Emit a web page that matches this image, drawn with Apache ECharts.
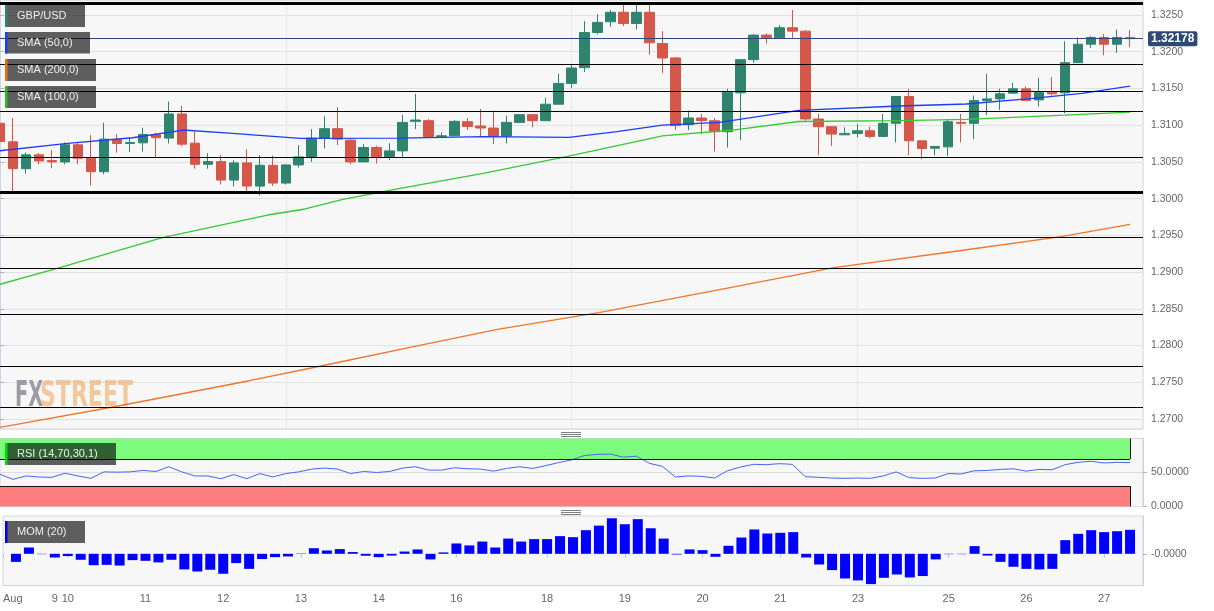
<!DOCTYPE html>
<html><head><meta charset="utf-8">
<script src="https://cdn.jsdelivr.net/npm/echarts@6/dist/echarts.min.js"></script>
<style>html,body{margin:0;padding:0;background:#fff;}#c{width:1214px;height:611px;}</style>
</head><body><div id="c"></div>
<script>
// ---- data ----
const tickIndex  = [0,4,5,11,17,23,29,35,42,48,54,60,66,73,79,85];
const tickLabels = ['Aug','9','10','11','12','13','14','16','18','19','20','21','23','25','26','27'];

const opens  = [1.31025,1.30774,1.30408,1.30596,1.30518,1.30500,1.30733,1.30550,1.30367,1.30806,
                1.30751,1.30760,1.30870,1.30824,1.31153,1.30755,1.30468,1.30504,1.30253,1.30486,
                1.30171,1.30454,1.30212,1.30459,1.30568,1.30824,1.30952,1.30796,1.30500,1.30696,
                1.30573,1.30650,1.31052,1.31061,1.30842,1.30856,1.31047,1.30988,1.30961,1.30851,
                1.31038,1.31143,1.31061,1.31285,1.31568,1.31783,1.32262,1.32408,1.32536,1.32385,
                1.32536,1.32111,1.31915,1.31007,1.31098,1.31061,1.30911,1.31440,1.31892,1.32226,
                1.32189,1.32326,1.32280,1.31084,1.30979,1.30869,1.30888,1.30924,1.30847,1.31025,
                1.31390,1.30787,1.30687,1.30705,1.31038,1.31025,1.31335,1.31358,1.31436,1.31495,
                1.31344,1.31449,1.31440,1.31851,1.32102,1.32194,1.32102,1.32194];
const closes = [1.30778,1.30408,1.30596,1.30513,1.30500,1.30733,1.30550,1.30367,1.30810,1.30751,
                1.30765,1.30874,1.30828,1.31153,1.30742,1.30468,1.30504,1.30253,1.30486,1.30171,
                1.30454,1.30212,1.30459,1.30568,1.30824,1.30952,1.30810,1.30500,1.30696,1.30573,
                1.30650,1.31038,1.31070,1.30847,1.30856,1.31052,1.30983,1.30961,1.30847,1.31038,
                1.31143,1.31061,1.31285,1.31568,1.31778,1.32262,1.32399,1.32536,1.32385,1.32536,
                1.32121,1.31915,1.30993,1.31098,1.31061,1.30911,1.31449,1.31892,1.32226,1.32194,
                1.32326,1.32280,1.31084,1.30979,1.30879,1.30888,1.30924,1.30847,1.31025,1.31390,
                1.30787,1.30682,1.30710,1.31047,1.31025,1.31335,1.31358,1.31427,1.31495,1.31335,
                1.31449,1.31427,1.31851,1.32102,1.32194,1.32102,1.32194,1.32178];
const lows   = [1.30740,1.30080,1.30340,1.30468,1.30413,1.30468,1.30468,1.30180,1.30331,1.30627,
                1.30637,1.30641,1.30559,1.30751,1.30714,1.30408,1.30408,1.30194,1.30166,1.30080,
                1.30043,1.30171,1.30194,1.30422,1.30500,1.30682,1.30728,1.30468,1.30500,1.30477,
                1.30527,1.30568,1.30947,1.30833,1.30824,1.30850,1.30933,1.30833,1.30742,1.30751,
                1.31030,1.30970,1.31061,1.31285,1.31504,1.31723,1.32235,1.32340,1.32349,1.32303,
                1.31961,1.31710,1.30938,1.30933,1.30879,1.30641,1.30696,1.30796,1.31851,1.32111,
                1.32189,1.32189,1.31061,1.30591,1.30719,1.30865,1.30833,1.30824,1.30847,1.30765,
                1.30591,1.30536,1.30591,1.30582,1.30765,1.30810,1.31139,1.31207,1.31436,1.31335,
                1.31253,1.31404,1.31162,1.31851,1.32052,1.31952,1.31984,1.32066];
const highs  = [1.31107,1.31098,1.30627,1.30618,1.30659,1.30765,1.30755,1.30865,1.31034,1.30879,
                1.30833,1.30965,1.30897,1.31322,1.31262,1.30915,1.30618,1.30596,1.30523,1.30673,
                1.30591,1.30586,1.30468,1.30728,1.30947,1.31121,1.31244,1.30810,1.30742,1.30719,
                1.30755,1.31143,1.31427,1.31084,1.30901,1.31070,1.31098,1.31221,1.31198,1.31130,
                1.31150,1.31150,1.31372,1.31701,1.31828,1.32417,1.32509,1.32568,1.32659,1.32659,
                1.32659,1.32280,1.31929,1.31198,1.31153,1.31098,1.31495,1.31892,1.32239,1.32248,
                1.32363,1.32568,1.32294,1.31153,1.30979,1.30970,1.31016,1.30979,1.31153,1.31390,
                1.31495,1.30787,1.30719,1.31084,1.31153,1.31404,1.31700,1.31495,1.31577,1.31527,
                1.31646,1.31655,1.32143,1.32194,1.32212,1.32239,1.32303,1.32294];

// moving averages: [candle position, value]
const sma50  = [[0,1.30652],[5.2,1.30753],[10.2,1.30829],[14.1,1.30934],[17.9,1.30889],[23.1,1.30821],
                [30.8,1.30825],[37.2,1.30843],[43.8,1.30835],[47.5,1.30911],[51,1.31002],[55.4,1.31039],
                [61.5,1.31201],[69.2,1.31261],[74.4,1.31288],[79.5,1.31366],[83.3,1.31434],[87,1.31533]];
const sma100 = [[0,1.28834],[4.4,1.29051],[12.5,1.29468],[20.6,1.29777],[23.5,1.29859],[26.4,1.29991],
                [30.8,1.30141],[37.2,1.30345],[43.6,1.30571],[51,1.30853],[56.4,1.30934],[61.5,1.31050],
                [69.2,1.31061],[74.4,1.31080],[82,1.31138],[87,1.31179]];
const sma200 = [[0,1.26887],[8.8,1.27167],[19.2,1.27521],[24.8,1.27725],[32.4,1.28006],[38.3,1.28220],
                [46.2,1.28452],[55.2,1.28756],[64.2,1.29060],[73.3,1.29277],[81.7,1.29482],[87,1.29651]];

const rsi = [47.4,39.9,44.9,43.4,42.9,48.9,44.9,41.4,50.9,50.5,
             50.9,53.0,51.5,58.5,50.9,44.9,44.9,40.9,46.9,40.9,
             48.4,43.4,48.4,50.9,55.0,56.5,55.0,48.4,51.5,50.0,
             51.5,56.5,58.5,53.5,53.5,57.0,55.5,55.0,52.0,56.0,
             58.5,56.0,60.0,64.5,68.5,75.0,76.6,77.1,72.5,74.0,
             63.5,59.0,43.4,44.9,44.4,41.9,52.5,58.0,62.0,61.5,
             63.0,62.0,43.9,42.9,41.9,41.4,41.9,41.4,44.9,50.9,
             42.4,41.4,41.9,48.4,47.9,52.5,53.0,54.5,55.5,52.0,
             54.5,54.0,61.5,65.0,66.5,64.0,65.0,64.5];
const mom = [0.0000,-0.0046,0.0036,-0.0002,-0.0021,-0.0013,-0.0034,-0.0065,-0.0063,-0.0067,
             -0.0036,-0.0040,-0.0049,-0.0034,-0.0089,-0.0101,-0.0091,-0.0114,-0.0053,-0.0086,
             -0.0030,-0.0019,-0.0015,0.0002,0.0032,0.0019,0.0027,0.0010,-0.0011,-0.0019,
             -0.0010,0.0013,0.0025,-0.0032,0.0008,0.0059,0.0048,0.0070,0.0036,0.0087,
             0.0070,0.0084,0.0084,0.0101,0.0095,0.0135,0.0161,0.0203,0.0169,0.0198,
             0.0146,0.0087,-0.0004,0.0025,0.0021,-0.0017,0.0046,0.0093,0.0139,0.0116,
             0.0120,0.0124,-0.0021,-0.0061,-0.0093,-0.0141,-0.0152,-0.0173,-0.0137,-0.0118,
             -0.0135,-0.0127,-0.0032,-0.0002,-0.0002,0.0044,-0.0010,-0.0046,-0.0074,-0.0086,
             -0.0089,-0.0086,0.0078,0.0114,0.0135,0.0124,0.0129,0.0137];

const lastPrice   = 1.32178;
const heavyLevels = [1.32659, 1.30086];
const lightLevels = [1.31833, 1.31465, 1.31193, 1.30567, 1.29473, 1.29051, 1.28425, 1.27717, 1.27159];
const rsiUpper = [70, 100];
const rsiLower = [0, 30];

// ---- build chart ----
const n = opens.length;
const categories = Array.from({length: n + 1}, (_, i) => 'c' + i);
const labelAt = {};
tickIndex.forEach((t, k) => { labelAt[t] = tickLabels[k]; });
const isTick = (idx) => labelAt[idx] !== undefined;

const FONT = '"Liberation Sans", Arial, sans-serif';
const G = {left: 0, right: 71, show: true, backgroundColor: '#f7f7f7', borderColor: '#cfd5e2', borderWidth: 1};
const AXC = '#666';

function catAxis(gi, showLabels) {
  return {
    type: 'category', gridIndex: gi, data: categories, boundaryGap: false,
    axisLine: {show: false},
    axisTick: {show: showLabels, interval: (i) => isTick(i), length: 4, lineStyle: {color: '#c3cad8'}},
    axisLabel: {show: showLabels, interval: (i) => isTick(i), formatter: (v, i) => labelAt[i] || '',
                color: AXC, fontSize: 11, margin: 8, alignMinLabel: 'left', fontFamily: FONT},
    splitLine: {show: false}
  };
}

const levelLines = [];
heavyLevels.forEach(v => levelLines.push({yAxis: v, lineStyle: {color: '#000', width: 3, type: 'solid'}}));
lightLevels.forEach(v => levelLines.push({yAxis: v, lineStyle: {color: '#000', width: 1.2, type: 'solid'}}));
levelLines.push({yAxis: lastPrice, lineStyle: {color: '#2c4a74', width: 1.2, type: 'solid'},
  label: {show: true, position: 'end', distance: 5, formatter: lastPrice.toFixed(5), color: '#fff',
          fontWeight: 'bold', fontSize: 12, fontFamily: FONT, backgroundColor: '#2c4a74',
          padding: [2, 3, 1, 3], borderRadius: 2}});

function legendBox(x, y, w, h, strip, text) {
  return {type: 'group', z: 50, children: [
    {type: 'rect', z: 50, shape: {x: x, y: y, width: w, height: h}, style: {fill: 'rgba(0,0,0,0.62)'}},
    {type: 'rect', z: 51, shape: {x: x, y: y, width: 2.5, height: h}, style: {fill: strip}},
    {type: 'text', z: 52, x: 17, y: y + h / 2, style: {text: text, fill: '#eeeeee', font: '11px ' + FONT, verticalAlign: 'middle'}}
  ]};
}
function grip(y) {
  return {type: 'group', z: 50, children: [0, 2, 4].map(d => ({type: 'line', z: 50,
    shape: {x1: 561, y1: y + d + 0.5, x2: 581, y2: y + d + 0.5}, style: {stroke: '#808080', lineWidth: 1}}))};
}

const chart = echarts.init(document.getElementById('c'), null, {renderer: 'canvas'});
chart.setOption({
  animation: false,
  textStyle: {fontFamily: FONT},
  grid: [
    Object.assign({top: 0, height: 429}, G),
    Object.assign({top: 438.5, height: 68}, G),
    Object.assign({top: 516, height: 69.5}, G)
  ],
  xAxis: [
    catAxis(0, false), catAxis(1, false), catAxis(2, true),
    {type: 'value', gridIndex: 0, position: 'top', min: 0, max: n, interval: 22,
     axisLine: {show: false}, axisTick: {show: false}, axisLabel: {show: false},
     splitLine: {show: true, lineStyle: {color: '#e8e8e8'}}}
  ],
  yAxis: [
    {type: 'value', gridIndex: 0, position: 'right', min: 1.26864, max: 1.32704, splitNumber: 12,
     axisLine: {show: true, lineStyle: {color: '#cfd5e2'}},
     axisTick: {show: true, length: 4, lineStyle: {color: '#b5b5b5'}},
     axisLabel: {color: AXC, fontSize: 10.5, margin: 8, showMinLabel: false, showMaxLabel: false,
                 formatter: v => v.toFixed(4)},
     splitLine: {show: true, lineStyle: {color: '#e1e1e1'}}},
    {type: 'value', gridIndex: 1, position: 'right', min: 0, max: 100, interval: 50,
     axisLine: {show: true, lineStyle: {color: '#cfd5e2'}},
     axisTick: {show: true, length: 4, lineStyle: {color: '#b5b5b5'}, customValues: [0, 50]},
     axisLabel: {color: AXC, fontSize: 10.5, margin: 8, customValues: [0, 50],
                 formatter: v => (v === 100 ? '' : v.toFixed(4))},
     splitLine: {show: true, lineStyle: {color: '#dedede'}}},
    {type: 'value', gridIndex: 2, position: 'right', min: -0.0181, max: 0.0216,
     axisLine: {show: true, lineStyle: {color: '#cfd5e2'}},
     axisTick: {show: true, length: 4, lineStyle: {color: '#b5b5b5'}, customValues: [0]},
     axisLabel: {color: AXC, fontSize: 10.5, margin: 8, customValues: [0],
                 formatter: v => (Math.abs(v) < 1e-10 ? '-0.0000' : '')},
     splitLine: {show: false}}
  ],
  series: [
    {type: 'candlestick', name: 'GBP/USD', xAxisIndex: 0, yAxisIndex: 0, barWidth: 10,
     data: opens.map((o, i) => [o, closes[i], lows[i], highs[i]]),
     itemStyle: {color: '#2f8470', color0: '#d4574a', borderColor: '#2f8470', borderColor0: '#d4574a', borderWidth: 1},
     markLine: {symbol: 'none', silent: true, animation: false, precision: 5, label: {show: false}, data: levelLines}},
    {type: 'line', name: 'SMA (50,0)', xAxisIndex: 3, yAxisIndex: 0, data: sma50, symbol: 'none',
     lineStyle: {color: '#1d3df2', width: 1.3}},
    {type: 'line', name: 'SMA (200,0)', xAxisIndex: 3, yAxisIndex: 0, data: sma200, symbol: 'none',
     lineStyle: {color: '#f0762a', width: 1.3}},
    {type: 'line', name: 'SMA (100,0)', xAxisIndex: 3, yAxisIndex: 0, data: sma100, symbol: 'none',
     lineStyle: {color: '#35c935', width: 1.3}},
    {type: 'line', name: 'RSI', xAxisIndex: 1, yAxisIndex: 1, data: rsi, symbol: 'none',
     lineStyle: {color: '#4766f0', width: 1},
     markArea: {silent: true, data: [
       [{xAxis: 0, yAxis: rsiUpper[0], itemStyle: {color: '#7dfb7d'}}, {xAxis: n - 1, yAxis: rsiUpper[1]}],
       [{xAxis: 0, yAxis: rsiLower[0], itemStyle: {color: '#fb7d7d'}}, {xAxis: n - 1, yAxis: rsiLower[1]}]
     ]},
     markLine: {symbol: 'none', silent: true, label: {show: false}, precision: 5,
       lineStyle: {color: '#111', width: 1, type: 'solid'}, data: [
       [{xAxis: 0, yAxis: rsiUpper[0]}, {xAxis: n - 1, yAxis: rsiUpper[0]}],
       [{xAxis: n - 1, yAxis: rsiUpper[0]}, {xAxis: n - 1, yAxis: rsiUpper[1]}],
       [{xAxis: 0, yAxis: rsiLower[1]}, {xAxis: n - 1, yAxis: rsiLower[1]}],
       [{xAxis: n - 1, yAxis: rsiLower[0]}, {xAxis: n - 1, yAxis: rsiLower[1]}]
     ]}},
    {type: 'bar', name: 'MOM', xAxisIndex: 2, yAxisIndex: 2, data: mom, barWidth: 10,
     itemStyle: {color: '#0000ff'}}
  ],
  graphic: [
    {type: 'text', z: 1, x: 15, y: 397, scaleX: 0.6,
     style: {text: 'FX', fill: 'rgba(140,140,150,0.85)', font: 'bold 36px "DejaVu Sans Condensed", "DejaVu Sans"', verticalAlign: 'middle'}},
    {type: 'text', z: 1, x: 40, y: 397, scaleX: 0.68,
     style: {text: 'STREET', fill: 'rgba(240,168,95,0.6)', font: 'bold 36px "DejaVu Sans Condensed", "DejaVu Sans"', verticalAlign: 'middle'}},
    legendBox(5, 5, 80, 22, '#2f8470', 'GBP/USD'),
    legendBox(5, 32, 85, 21.5, '#1d3df2', 'SMA (50,0)'),
    legendBox(5, 59, 91, 22, '#f06a10', 'SMA (200,0)'),
    legendBox(5, 86, 91, 22, '#20c020', 'SMA (100,0)'),
    legendBox(5, 443, 111, 22, '#00e000', 'RSI (14,70,30,1)'),
    legendBox(5, 521, 80, 22, '#0000ee', 'MOM (20)'),
    grip(432), grip(510)
  ]
});
</script></body></html>
